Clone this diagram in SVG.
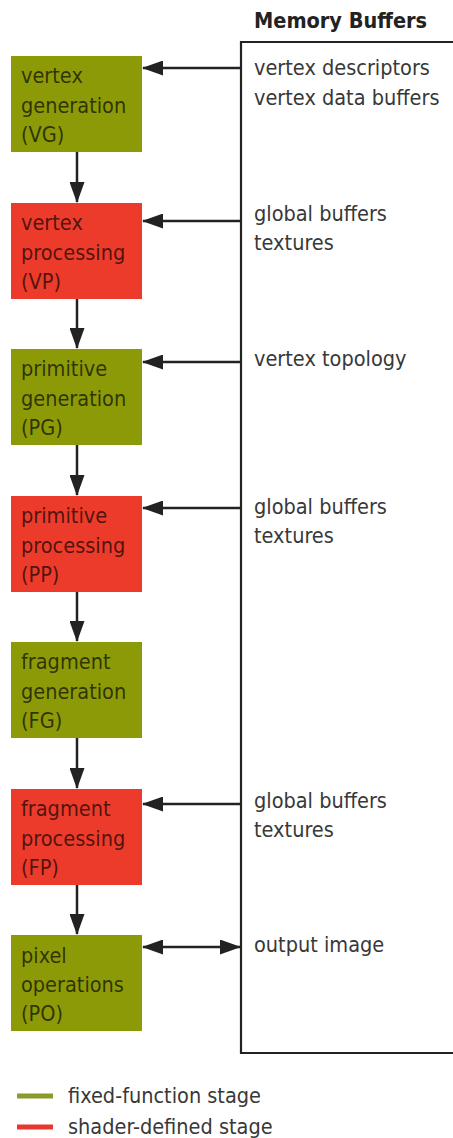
<svg xmlns="http://www.w3.org/2000/svg" width="453" height="1138" viewBox="0 0 453 1138">
  <style>
    text { font-family: "DejaVu Sans Condensed", "DejaVu Sans", sans-serif; font-stretch: condensed; font-size: 21.5px; }
    .fixed { fill: #8c9a08; }
    .shader { fill: #ec3b2b; }
    .stage { fill: #000; fill-opacity: 0.68; }
    .buf { fill: #383838; }
    .title { fill: #222; font-weight: bold; }
    .link { stroke: #222; stroke-width: 2.5; fill: none; }
  </style>
  <defs>
    <marker id="head" markerUnits="userSpaceOnUse" viewBox="0 0 21 15" markerWidth="21" markerHeight="15" refX="20" refY="7.5" orient="auto-start-reverse">
      <path d="M0,0 L21,7.5 L0,15 Z" fill="#222"/>
    </marker>
  </defs>

  <rect width="453" height="1138" fill="#fff"/>

  <!-- memory buffers panel -->
  <g id="memory">
    <text class="title" x="254" y="28">Memory Buffers</text>
    <path d="M460,42 H241 V1053 H460" fill="none" stroke="#222" stroke-width="2.2"/>
    <text class="buf" x="254" y="75">vertex descriptors</text>
    <text class="buf" x="254" y="105">vertex data buffers</text>
    <text class="buf" x="254" y="221">global buffers</text>
    <text class="buf" x="254" y="250">textures</text>
    <text class="buf" x="254" y="366">vertex topology</text>
    <text class="buf" x="254" y="514">global buffers</text>
    <text class="buf" x="254" y="543">textures</text>
    <text class="buf" x="254" y="808">global buffers</text>
    <text class="buf" x="254" y="837">textures</text>
    <text class="buf" x="254" y="952">output image</text>
  </g>

  <!-- pipeline stages -->
  <g id="vg">
    <rect class="fixed" x="11" y="56" width="131" height="96"/>
    <text class="stage" x="21" y="83">vertex</text>
    <text class="stage" x="21" y="113">generation</text>
    <text class="stage" x="21" y="142">(VG)</text>
  </g>
  <g id="vp">
    <rect class="shader" x="11" y="203" width="131" height="96"/>
    <text class="stage" x="21" y="230">vertex</text>
    <text class="stage" x="21" y="260">processing</text>
    <text class="stage" x="21" y="289">(VP)</text>
  </g>
  <g id="pg">
    <rect class="fixed" x="11" y="349" width="131" height="96"/>
    <text class="stage" x="21" y="376">primitive</text>
    <text class="stage" x="21" y="406">generation</text>
    <text class="stage" x="21" y="435">(PG)</text>
  </g>
  <g id="pp">
    <rect class="shader" x="11" y="496" width="131" height="96"/>
    <text class="stage" x="21" y="523">primitive</text>
    <text class="stage" x="21" y="553">processing</text>
    <text class="stage" x="21" y="582">(PP)</text>
  </g>
  <g id="fg">
    <rect class="fixed" x="11" y="642" width="131" height="96"/>
    <text class="stage" x="21" y="669">fragment</text>
    <text class="stage" x="21" y="699">generation</text>
    <text class="stage" x="21" y="728">(FG)</text>
  </g>
  <g id="fp">
    <rect class="shader" x="11" y="789" width="131" height="96"/>
    <text class="stage" x="21" y="816">fragment</text>
    <text class="stage" x="21" y="846">processing</text>
    <text class="stage" x="21" y="875">(FP)</text>
  </g>
  <g id="po">
    <rect class="fixed" x="11" y="935" width="131" height="96"/>
    <text class="stage" x="21" y="963">pixel</text>
    <text class="stage" x="21" y="992">operations</text>
    <text class="stage" x="21" y="1021">(PO)</text>
  </g>

  <!-- connectors -->
  <g id="connectors" class="link">
    <path class="link" d="M77,152 V202" marker-end="url(#head)"/>
    <path class="link" d="M77,299 V348" marker-end="url(#head)"/>
    <path class="link" d="M77,445 V495" marker-end="url(#head)"/>
    <path class="link" d="M77,592 V641" marker-end="url(#head)"/>
    <path class="link" d="M77,738 V788" marker-end="url(#head)"/>
    <path class="link" d="M77,885 V934" marker-end="url(#head)"/>
    <path class="link" d="M241,68 H143" marker-end="url(#head)"/>
    <path class="link" d="M241,221 H143" marker-end="url(#head)"/>
    <path class="link" d="M241,362 H143" marker-end="url(#head)"/>
    <path class="link" d="M241,508 H143" marker-end="url(#head)"/>
    <path class="link" d="M241,804 H143" marker-end="url(#head)"/>
    <path class="link" d="M143,947 H240" marker-start="url(#head)" marker-end="url(#head)"/>
  </g>

  <!-- legend -->
  <g id="legend">
    <line x1="17" y1="1096" x2="53" y2="1096" stroke="#8c9a2a" stroke-width="5"/>
    <line x1="17" y1="1127" x2="53" y2="1127" stroke="#e8382e" stroke-width="5"/>
    <text class="buf" x="68" y="1103">fixed-function stage</text>
    <text class="buf" x="68" y="1134">shader-defined stage</text>
  </g>
</svg>
